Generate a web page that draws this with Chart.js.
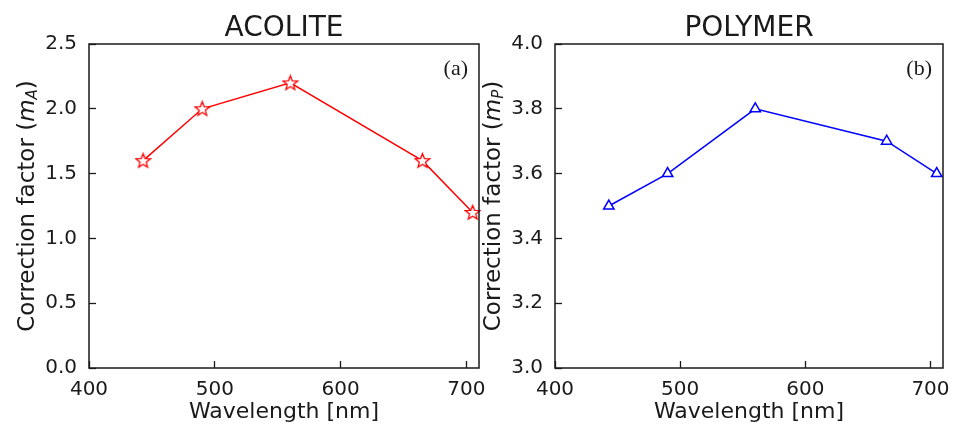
<!DOCTYPE html>
<html>
<head>
<meta charset="utf-8">
<script src="https://cdn.jsdelivr.net/npm/chart.js@4.4.0/dist/chart.umd.min.js"></script>
<style>
  html, body { margin: 0; padding: 0; background: #fff; }
  #wrap { position: relative; width: 956px; height: 425px; }
  #wrap canvas { position: absolute; left: 0; top: 0; }
</style>
</head>
<body>
<div id="wrap">
  <canvas id="chartA" width="956" height="425"></canvas>
  <canvas id="chartB" width="956" height="425"></canvas>
</div>
<script>
// Data
const wavelengths = [443, 490, 560, 665, 705];
const acoliteValues = [1.6, 2.0, 2.2, 1.6, 1.2];
const polymerValues = [3.5, 3.6, 3.8, 3.7, 3.6];
const xTicks = [400, 500, 600, 700];
const acoliteTicks = [0.0, 0.5, 1.0, 1.5, 2.0, 2.5];
const polymerTicks = [3.0, 3.2, 3.4, 3.6, 3.8, 4.0];

const FONT = '"DejaVu Sans", sans-serif';
const INK = '#1a1a1a';

// Hollow five-point star used as the ACOLITE marker
function makeStar(color) {
  const c = document.createElement('canvas');
  c.width = 17; c.height = 17;
  const g = c.getContext('2d');
  g.beginPath();
  for (let i = 0; i < 10; i++) {
    const r = i % 2 === 0 ? 7.5 : 3.3;
    const a = -Math.PI / 2 + i * Math.PI / 5;
    const px = 8.5 + r * Math.cos(a);
    const py = 9 + r * Math.sin(a);
    if (i === 0) g.moveTo(px, py); else g.lineTo(px, py);
  }
  g.closePath();
  g.fillStyle = '#fff';
  g.fill();
  g.strokeStyle = color;
  g.lineWidth = 1.3;
  g.stroke();
  return c;
}

// Draws the frame, the y axis label with its subscript and the panel letter
const framePlugin = {
  id: 'frame',
  afterDraw(chart, args, opts) {
    const ctx = chart.ctx;
    const a = chart.chartArea;
    ctx.save();
    ctx.strokeStyle = INK;
    ctx.lineWidth = 1.5;
    ctx.strokeRect(a.left, a.top, a.right - a.left, a.bottom - a.top);

    // y axis label
    const parts = [
      { t: 'Correction factor (', f: '23px ' + FONT, dy: 0 },
      { t: 'm', f: 'italic 23px ' + FONT, dy: 0 },
      { t: opts.sub, f: 'italic 15px ' + FONT, dy: 5 },
      { t: ')', f: '23px ' + FONT, dy: 0 }
    ];
    let total = 0;
    parts.forEach(p => { ctx.font = p.f; p.w = ctx.measureText(p.t).width; total += p.w; });
    ctx.translate(a.left - 61, (a.top + a.bottom) / 2);
    ctx.rotate(-Math.PI / 2);
    ctx.fillStyle = INK;
    ctx.textBaseline = 'middle';
    ctx.textAlign = 'left';
    let x = -total / 2;
    parts.forEach(p => { ctx.font = p.f; ctx.fillText(p.t, x, p.dy); x += p.w; });
    ctx.restore();

    // panel letter
    ctx.save();
    ctx.font = '22px "Liberation Serif", serif';
    ctx.fillStyle = INK;
    ctx.textAlign = 'right';
    ctx.textBaseline = 'middle';
    ctx.fillText(opts.letter, a.right - 11, a.top + 25);
    ctx.restore();
  }
};

function makeChart(id, values, yTicks, color, marker, title, sub, letter, padLeft, padRight, yWidth) {
  const ctx = document.getElementById(id).getContext('2d');
  return new Chart(ctx, {
    type: 'line',
    data: {
      datasets: [{
        data: wavelengths.map((w, i) => ({ x: w, y: values[i] })),
        borderColor: color,
        borderWidth: 1.5,
        backgroundColor: '#fff',
        pointStyle: marker,
        pointRadius: 6,
        pointBorderWidth: 1.5,
        pointBorderColor: color,
        pointBackgroundColor: '#fff',
        tension: 0,
        clip: false
      }]
    },
    options: {
      responsive: false,
      animation: false,
      events: [],
      layout: { padding: { left: padLeft, right: padRight, top: 0, bottom: 0 } },
      plugins: {
        legend: { display: false },
        tooltip: { enabled: false },
        title: {
          display: true,
          text: title,
          fullSize: false,
          color: INK,
          font: { family: FONT, size: 28, weight: 'normal', lineHeight: 1.0 },
          padding: { top: 15, bottom: 1 }
        },
        frame: { sub: sub, letter: letter }
      },
      scales: {
        x: {
          type: 'linear',
          min: 400,
          max: 710,
          afterBuildTicks: s => { s.ticks = xTicks.map(v => ({ value: v })); },
          afterFit: s => { s.height = 57; s.paddingLeft = 0; s.paddingRight = 0; },
          border: { display: false },
          grid: { drawOnChartArea: false, drawTicks: true, tickLength: -7, tickWidth: 1.3, color: INK },
          ticks: { color: INK, padding: 17, maxRotation: 0, font: { family: FONT, size: 20 }, callback: v => String(v) },
          title: { display: true, text: 'Wavelength [nm]', color: INK, font: { family: FONT, size: 22 }, padding: { top: 0, bottom: 0 } }
        },
        y: {
          type: 'linear',
          min: yTicks[0],
          max: yTicks[yTicks.length - 1],
          afterBuildTicks: s => { s.ticks = yTicks.map(v => ({ value: v })); },
          afterFit: s => { s.width = yWidth; s.paddingTop = 0; s.paddingBottom = 0; },
          border: { display: false },
          grid: { drawOnChartArea: false, drawTicks: true, tickLength: -7, tickWidth: 1.3, color: INK },
          ticks: { color: INK, padding: 19, font: { family: FONT, size: 20 }, callback: v => Number(v).toFixed(1) }
        }
      }
    },
    plugins: [framePlugin]
  });
}

makeChart('chartA', acoliteValues, acoliteTicks, '#ff0000', makeStar('#ff0000'), 'ACOLITE', 'A', '(a)', 0, 477, 89);
makeChart('chartB', polymerValues, polymerTicks, '#0000ff', 'triangle', 'POLYMER', 'P', '(b)', 482, 13, 73);
</script>
</body>
</html>
